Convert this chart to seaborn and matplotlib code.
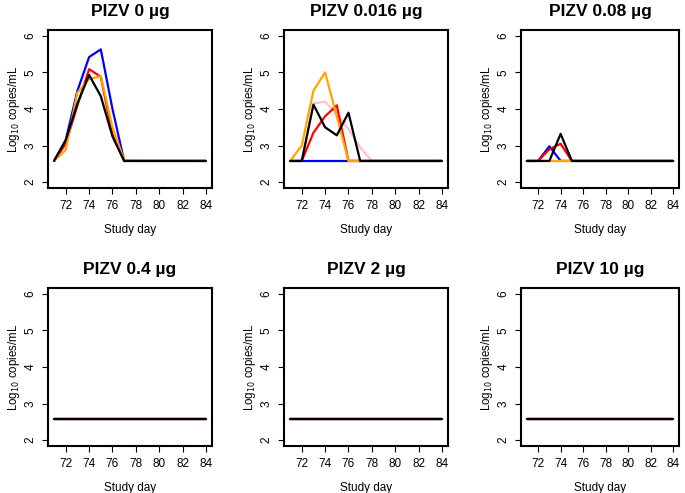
import matplotlib
matplotlib.use("Agg")
import matplotlib.pyplot as plt
import seaborn as sns
import pandas as pd
import numpy as np

sns.set_theme(style="white")
plt.rcParams['font.family'] = ['Liberation Sans', 'DejaVu Sans']
plt.rcParams['text.color'] = 'black'
plt.rcParams['axes.labelcolor'] = 'black'
plt.rcParams['axes.titlecolor'] = 'black'

days = list(range(71, 85))
LLOQ = 2.58
NA = np.nan

titles = ["PIZV 0 \u00b5g", "PIZV 0.016 \u00b5g", "PIZV 0.08 \u00b5g",
          "PIZV 0.4 \u00b5g", "PIZV 2 \u00b5g", "PIZV 10 \u00b5g"]
series_names = ["pink", "blue", "red", "orange", "black"]
series_colors = {"pink": "#FFC0CB", "blue": "#0000FF", "red": "#FF0000",
                 "orange": "#FFA500", "black": "#000000"}

base = [LLOQ] * 14

# Panel 1: PIZV 0 ug (days 71..84)
p0_pink = [NA] * 6 + [LLOQ] * 8
p0_blue = [2.58, 3.15, 4.5, 5.42, 5.63, 4.0, 2.58] + [LLOQ] * 7
p0_red = [2.58, 3.05, 4.1, 5.09, 4.88, 3.3, 2.58] + [LLOQ] * 7
p0_orange = [2.58, 2.88, 4.45, 4.82, 4.9, 3.5, 2.6] + [LLOQ] * 7
p0_black = [2.58, 3.15, 4.15, 4.93, 4.35, 3.25, 2.58] + [LLOQ] * 7

# Panel 2: PIZV 0.016 ug
p1_pink = [2.58, 2.58, 4.15, 4.2, 3.85, 3.45, 2.95, 2.58] + [LLOQ] * 6
p1_blue = base
p1_red = [2.58, 2.58, 3.35, 3.8, 4.1, 2.58] + [LLOQ] * 8
p1_orange = [2.58, 3.0, 4.5, 5.0, 3.8, 2.58, 2.58] + [LLOQ] * 7
p1_black = [2.58, 2.58, 4.12, 3.5, 3.28, 3.9, 2.58] + [LLOQ] * 7

# Panel 3: PIZV 0.08 ug
p2_pink = base
p2_blue = [2.58, 2.58, 2.98, 2.58] + [LLOQ] * 10
p2_red = [2.58, 2.58, 2.9, 3.05, 2.58] + [LLOQ] * 9
p2_orange = base
p2_black = [2.58, 2.58, 2.58, 3.32, 2.58] + [LLOQ] * 9

panel_data = [
    [p0_pink, p0_blue, p0_red, p0_orange, p0_black],
    [p1_pink, p1_blue, p1_red, p1_orange, p1_black],
    [p2_pink, p2_blue, p2_red, p2_orange, p2_black],
    [base, base, base, base, base],
    [base, base, base, base, base],
    [base, base, base, base, base],
]

W, H = 685, 493
fig = plt.figure(figsize=(W / 100, H / 100), dpi=100)

col_lr = [(48, 212), (284, 448), (521, 679)]
row_tb = [(30, 188), (288, 446)]

for i, title in enumerate(titles):
    r, c = divmod(i, 3)
    l, rr = col_lr[c]
    t, b = row_tb[r]
    ax = fig.add_axes([l / W, 1 - b / H, (rr - l) / W, (b - t) / H])
    rows = []
    for name, vals in zip(series_names, panel_data[i]):
        for d, v in zip(days, vals):
            if not np.isnan(v):
                rows.append({"day": d, "value": v, "series": name})
    df = pd.DataFrame(rows)
    sns.lineplot(data=df, x="day", y="value", hue="series",
                 hue_order=series_names, palette=series_colors,
                 estimator=None, sort=False, lw=1.6, legend=False, ax=ax)
    ax.set_xlim(70.48, 84.52)
    ax.set_ylim(1.84, 6.16)
    ax.set_xticks([72, 74, 76, 78, 80, 82, 84])
    ax.set_yticks([2, 3, 4, 5, 6])
    ax.tick_params(axis="both", direction="out", length=4.3, width=0.8,
                   labelsize=8.5, colors="black", bottom=True, left=True)
    ax.tick_params(axis="x", pad=4)
    ax.tick_params(axis="y", pad=4)
    for lab in ax.get_yticklabels():
        lab.set_rotation(90)
        lab.set_va("center")
    for sp in ax.spines.values():
        sp.set_visible(True)
        sp.set_color("black")
        sp.set_linewidth(1.5)
    ax.set_xlabel("Study day", fontsize=8.5, labelpad=9, color="black")
    ax.set_ylabel("Log$_{10}$ copies/mL", fontsize=8.3, labelpad=1.5,
                  color="black")
    ax.set_title(title, fontsize=12.5, fontweight="bold", pad=10,
                 color="black")
    ax.grid(False)

fig.savefig("out.png", dpi=100, facecolor="white")
